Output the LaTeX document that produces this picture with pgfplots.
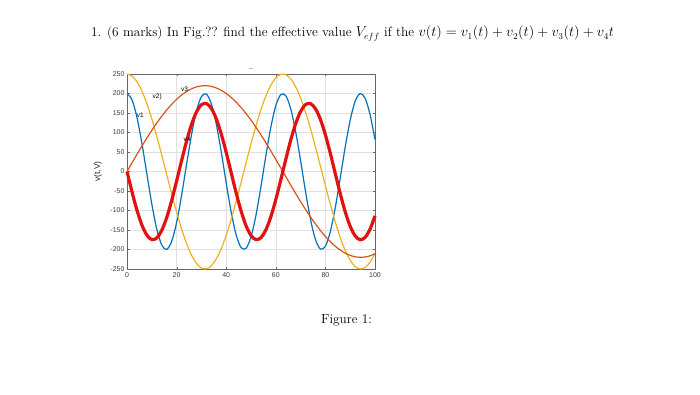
\documentclass[border=0pt]{standalone}
\usepackage{fontspec}
\usepackage{pgfplots}
\pgfplotsset{compat=1.18}
\newfontfamily\hv{Liberation Sans}
\definecolor{mblue}{rgb}{0,0.447,0.741}
\definecolor{morange}{rgb}{0.85,0.325,0.098}
\definecolor{myellow}{rgb}{0.929,0.694,0.125}
\definecolor{mred}{rgb}{0.89,0.07,0.07}
\definecolor{axgray}{rgb}{0.15,0.15,0.15}
\begin{document}
\begin{tikzpicture}[x=1pt,y=1pt]
\path[use as bounding box] (0,0) rectangle (700,394);
\node[anchor=base west,inner sep=0pt,font=\fontsize{13.3}{15}\selectfont] at (91,357) {1. (6 marks) In Fig.?? find the effective value $V_{eff}$ if the $v(t)=v_1(t)+v_2(t)+v_3(t)+v_4t$};
\begin{axis}[at={(127pt,125pt)}, anchor=south west, scale only axis,
  width=248pt, height=195pt,
  xmin=0, xmax=100, ymin=-250, ymax=250,
  xtick={0,20,...,100}, ytick={-250,-200,...,250},
  grid=major, grid style={color=black!12, line width=0.4pt},
  axis line style={color=axgray!70, line width=0.5pt},
  tick style={color=axgray!70},
  major tick length=2.5pt, tick align=inside,
  ticklabel style={font=\hv\fontsize{7}{8}\selectfont, color=axgray!90},
  yticklabel style={xshift=1pt},
  /pgf/number format/assume math mode=true,
  ylabel={v(t,V)},
  ylabel style={font=\hv\fontsize{8.5}{9}\selectfont, color=axgray, at={(axis description cs:-0.117,0.5)}, anchor=center},
  clip=false]
\addplot[color=mblue, line width=1.2pt, smooth] coordinates {(0,200)(2,184.2)(4,139.3)(6,72.5)(8,-5.8)(10,-83.2)(12,-147.5)(14,-188.4)(16,-199.7)(18,-179.4)(20,-130.7)(22,-61.5)(24,17.5)(26,93.7)(28,155.1)(30,192.0)(32,198.6)(34,173.9)(36,121.7)(38,50.3)(40,-29.1)(42,-103.9)(44,-162.2)(46,-195.0)(48,-196.9)(50,-167.8)(52,-112.2)(54,-38.9)(56,40.6)(58,113.7)(60,168.8)(62,197.2)(64,194.6)(66,161.2)(68,102.3)(70,27.4)(72,-52.0)(74,-123.1)(76,-174.7)(78,-198.8)(80,-191.5)(82,-154.0)(84,-92.1)(86,-15.7)(88,63.2)(90,132.0)(92,180.1)(94,199.8)(96,187.8)(98,146.3)(100,81.7)};
\addplot[color=myellow, line width=1.2pt, smooth] coordinates {(0,250)(2,245.0)(4,230.3)(6,206.3)(8,174.2)(10,135.1)(12,90.6)(14,42.5)(16,-7.3)(18,-56.8)(20,-104.0)(22,-147.1)(24,-184.4)(26,-214.2)(28,-235.6)(30,-247.5)(32,-249.6)(34,-241.7)(36,-224.2)(38,-197.8)(40,-163.4)(42,-122.6)(44,-76.8)(46,-28.1)(48,21.9)(50,70.9)(52,117.1)(54,158.7)(56,193.9)(58,221.4)(60,240.1)(62,249.1)(64,248.3)(66,237.6)(68,217.4)(70,188.5)(72,152.1)(74,109.6)(76,62.8)(78,13.5)(80,-36.4)(82,-84.8)(84,-129.8)(86,-169.7)(88,-202.8)(90,-227.8)(92,-243.7)(94,-249.9)(96,-246.2)(98,-232.6)(100,-209.8)};
\addplot[color=morange, line width=1.2pt, smooth] coordinates {(0,0)(2,22.0)(4,43.7)(6,65.0)(8,85.7)(10,105.5)(12,124.2)(14,141.7)(16,157.8)(18,172.3)(20,185.1)(22,196.1)(24,205.0)(26,212.0)(28,216.8)(30,219.5)(32,219.9)(34,218.2)(36,214.2)(38,208.2)(40,200.0)(42,189.9)(44,177.9)(46,164.1)(48,148.6)(50,131.7)(52,113.4)(54,94.0)(56,73.7)(58,52.6)(60,31.0)(62,9.2)(64,-12.8)(66,-34.7)(68,-56.2)(70,-77.2)(72,-97.4)(74,-116.6)(76,-134.6)(78,-151.3)(80,-166.5)(82,-180.0)(84,-191.8)(86,-201.6)(88,-209.4)(90,-215.1)(92,-218.6)(94,-220.0)(96,-219.2)(98,-216.2)(100,-211.0)};
\addplot[color=mred, line width=3.2pt, smooth] coordinates {(0,0)(2,-51.7)(4,-98.8)(6,-137.1)(8,-163.1)(10,-174.6)(12,-170.4)(14,-151.1)(16,-118.2)(18,-74.8)(20,-24.7)(22,27.6)(24,77.4)(26,120.4)(28,152.5)(30,171.1)(32,174.3)(34,162.0)(36,135.2)(38,96.4)(40,48.9)(42,-2.9)(44,-54.5)(46,-101.2)(48,-138.9)(50,-164.1)(52,-174.7)(54,-169.7)(56,-149.6)(58,-116.0)(60,-72.1)(62,-21.8)(64,30.5)(66,80.1)(68,122.5)(70,153.9)(72,171.7)(74,174.0)(76,160.9)(78,133.4)(80,93.9)(82,46.1)(84,-5.9)(86,-57.3)(88,-103.6)(90,-140.7)(92,-165.1)(94,-174.9)(96,-169.0)(98,-148.0)(100,-113.8)};
\node[font=\hv\fontsize{6.5}{7}\selectfont, inner sep=0pt] at (axis cs:5.4,145) {v1};
\node[font=\hv\fontsize{6.5}{7}\selectfont, inner sep=0pt] at (axis cs:12.2,192) {v2)};
\node[font=\hv\fontsize{6.5}{7}\selectfont, inner sep=0pt] at (axis cs:23.2,211) {v3};
\node[font=\hv\fontsize{6.5}{7}\selectfont, inner sep=0pt] at (axis cs:24.2,83) {v4};
\end{axis}
\node[font=\hv\fontsize{7}{8}\selectfont, inner sep=0pt] at (251,325) {..};
\node[anchor=base west,inner sep=0pt,font=\fontsize{13.2}{15}\selectfont] at (321,70.5) {Figure 1:};
\end{tikzpicture}
\end{document}
